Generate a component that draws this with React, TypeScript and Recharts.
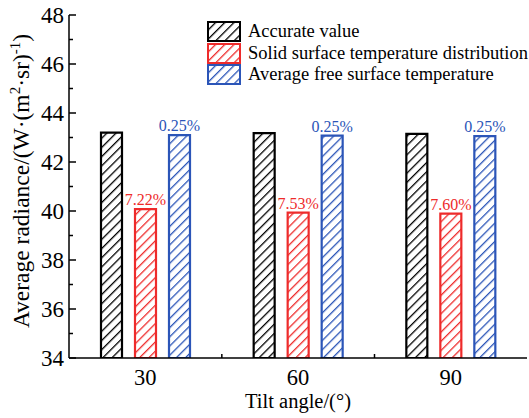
import React from 'react';
import { BarChart, Bar, XAxis, YAxis, LabelList, Label } from 'recharts';

const angles = ['30', '60', '90'];
const accurate = [43.2, 43.18, 43.15];
const solid = [40.08, 39.93, 39.89];
const averageFree = [43.1, 43.08, 43.06];
const solidErr = ['7.22%', '7.53%', '7.60%'];
const freeErr = ['0.25%', '0.25%', '0.25%'];
const yTicks = [34, 35, 36, 37, 38, 39, 40, 41, 42, 43, 44, 45, 46, 47, 48];

const data = angles.map((a, i) => ({
    angle: a,
    accurate: accurate[i],
    solid: solid[i],
    free: averageFree[i],
    solidErr: solidErr[i],
    freeErr: freeErr[i],
}));

const FONT = '"Liberation Serif", "Times New Roman", serif';
const RED = '#ee2b2b';
const BLUE = '#2b55b8';

const series = [
    { key: 'accurate', name: 'Accurate value', color: '#000000', pat: 'hatch-black' },
    { key: 'solid', name: 'Solid surface temperature distribution', color: RED, pat: 'hatch-red' },
    { key: 'free', name: 'Average free surface temperature', color: BLUE, pat: 'hatch-blue' },
];

const YTick = (props: any) => {
    const { x, y, payload } = props;
    const major = payload.value % 2 === 0;
    return (
        <g>
            <line x1={x} x2={x + (major ? 7 : 4)} y1={y} y2={y} stroke="#000" strokeWidth={1.5} />
            {major && (
                <text x={x - 5} y={y} dy={8} textAnchor="end" fontSize={23} fontFamily={FONT} fill="#000">
                    {payload.value}
                </text>
            )}
        </g>
    );
};

const XTick = (props: any) => {
    const { x, y, payload, index } = props;
    return (
        <g>
            {index < 2 && (
                <line x1={x + 76.5} x2={x + 76.5} y1={y} y2={y - 4} stroke="#000" strokeWidth={1.5} />
            )}
            <text x={x} y={y + 27} textAnchor="middle" fontSize={22.5} fontFamily={FONT} fill="#000">
                {payload.value}
            </text>
        </g>
    );
};

const YTitle = () => (
    <text
        transform="translate(29, 181) rotate(-90)"
        textAnchor="middle"
        fontSize={23.5}
        fontFamily={FONT}
        fill="#000"
    >
        Average radiance/(W·(m<tspan dy={-9} fontSize={15}>2</tspan>
        <tspan dy={9}>·sr)</tspan>
        <tspan dy={-9} fontSize={15}>-1</tspan>
        <tspan dy={9}>)</tspan>
    </text>
);

// legend drawn as html on top of the chart, reuses the svg patterns
const LegendBox = () => (
    <div
        style={{
            position: 'absolute',
            left: 207,
            top: 21,
            fontFamily: FONT,
            fontSize: 18.5,
            lineHeight: '21.5px',
            color: '#000',
            whiteSpace: 'nowrap',
        }}
    >
        {series.map((s) => (
            <div key={s.key} style={{ display: 'flex', alignItems: 'center', height: 21.5 }}>
                <svg width={34} height={21} style={{ marginRight: 7 }}>
                    <rect x={1} y={1} width={32} height={19} fill={`url(#${s.pat})`} stroke={s.color} strokeWidth={2} />
                </svg>
                <span>{s.name}</span>
            </div>
        ))}
    </div>
);

export default function App() {
    return (
        <div style={{ position: 'absolute', left: 0, top: 0, width: 529, height: 418, background: '#fff' }}>
            <BarChart
                width={529}
                height={418}
                data={data}
                margin={{ top: 15, right: 2, bottom: 0, left: 0 }}
                barCategoryGap="20%"
                barGap={13}
            >
                <defs>
                    {series.map((s) => (
                        <pattern
                            key={s.pat}
                            id={s.pat}
                            patternUnits="userSpaceOnUse"
                            width={6.5}
                            height={6.5}
                            patternTransform="rotate(45)"
                        >
                            <rect width={6.5} height={6.5} fill="#fff" />
                            <line x1={0} y1={0} x2={0} y2={6.5} stroke={s.color} strokeWidth={2.6} />
                        </pattern>
                    ))}
                </defs>
                <XAxis
                    dataKey="angle"
                    height={60}
                    axisLine={{ stroke: '#000', strokeWidth: 1.5 }}
                    tickLine={false}
                    tickSize={0}
                    tickMargin={0}
                    tick={<XTick />}
                    interval={0}
                >
                    <Label
                        value="Tilt angle/(°)"
                        position="insideBottom"
                        offset={10}
                        style={{ fontFamily: FONT, fontSize: 20.5, fill: '#000' }}
                    />
                </XAxis>
                <XAxis
                    xAxisId="top"
                    dataKey="angle"
                    orientation="top"
                    height={0}
                    tick={false}
                    tickLine={false}
                    axisLine={{ stroke: '#000', strokeWidth: 1.5 }}
                />
                <YAxis
                    domain={[34, 48]}
                    ticks={yTicks}
                    interval={0}
                    width={69}
                    allowDataOverflow
                    axisLine={{ stroke: '#000', strokeWidth: 1.5 }}
                    tickLine={false}
                    tickSize={0}
                    tickMargin={0}
                    tick={<YTick />}
                    label={{ content: <YTitle /> }}
                />
                <YAxis
                    yAxisId="right"
                    orientation="right"
                    width={0}
                    domain={[34, 48]}
                    tick={false}
                    tickLine={false}
                    axisLine={{ stroke: '#000', strokeWidth: 1.5 }}
                />
                {series.map((s) => (
                    <Bar
                        key={s.key}
                        dataKey={s.key}
                        name={s.name}
                        fill={`url(#${s.pat})`}
                        stroke={s.color}
                        strokeWidth={2.2}
                        barSize={21}
                        isAnimationActive={false}
                    >
                        {s.key === 'solid' && (
                            <LabelList
                                dataKey="solidErr"
                                position="top"
                                offset={4}
                                style={{ fontFamily: FONT, fontSize: 16, fill: RED }}
                            />
                        )}
                        {s.key === 'free' && (
                            <LabelList
                                dataKey="freeErr"
                                position="top"
                                offset={4}
                                style={{ fontFamily: FONT, fontSize: 16, fill: BLUE }}
                            />
                        )}
                    </Bar>
                ))}
            </BarChart>
            <LegendBox />
        </div>
    );
}
